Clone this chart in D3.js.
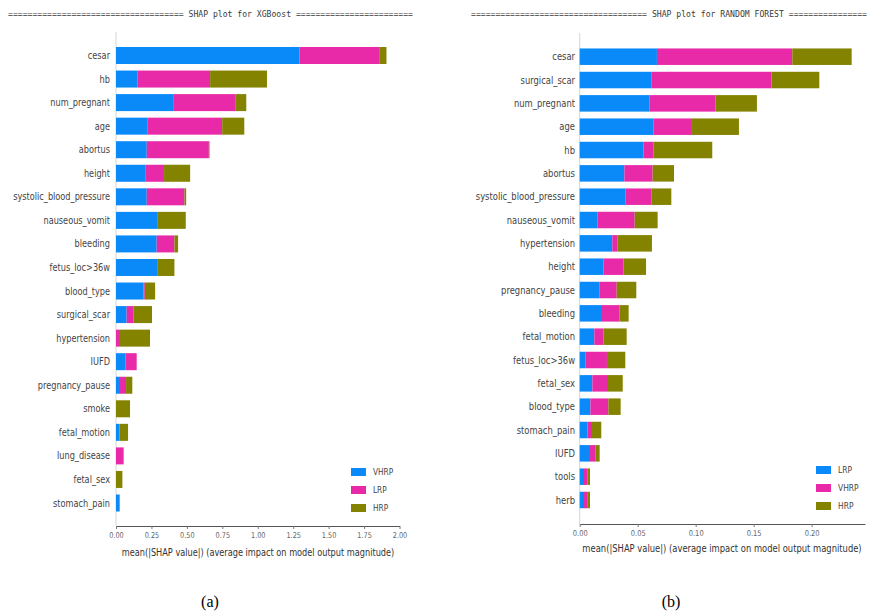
<!DOCTYPE html>
<html>
<head>
<meta charset="utf-8">
<script src="https://cdn.jsdelivr.net/npm/d3@7"></script>
<style>
  html, body { margin: 0; padding: 0; background: #fff; }
  svg { display: block; }
  text { font-family: "DejaVu Sans", sans-serif; }
</style>
</head>
<body>
<svg id="chart" width="870" height="614"></svg>
<script>
// ---------------- DATA ----------------
// (a) XGBoost
const xgbFeatures = ["cesar","hb","num_pregnant","age","abortus","height","systolic_blood_pressure",
  "nauseous_vomit","bleeding","fetus_loc>36w","blood_type","surgical_scar","hypertension","IUFD",
  "pregnancy_pause","smoke","fetal_motion","lung_disease","fetal_sex","stomach_pain"];
const xgbSeries = ["VHRP","LRP","HRP"];
const xgbVHRP = [1.295,0.153,0.408,0.224,0.217,0.210,0.217,0.295,0.287,0.295,0.193,0.075,0.000,0.068,0.021,0.000,0.024,0.000,0.000,0.026];
const xgbLRP  = [0.566,0.511,0.433,0.525,0.438,0.129,0.266,0.000,0.125,0.000,0.010,0.047,0.021,0.078,0.050,0.000,0.000,0.054,0.000,0.000];
const xgbHRP  = [0.047,0.401,0.078,0.156,0.005,0.184,0.012,0.197,0.026,0.117,0.073,0.132,0.219,0.000,0.044,0.099,0.061,0.000,0.045,0.000];
const xgbTicks = [0,0.25,0.5,0.75,1.0,1.25,1.5,1.75,2.0];
const xgbTitle = "==================================== SHAP plot for XGBoost ========================";

// (b) Random Forest
const rfFeatures = ["cesar","surgical_scar","num_pregnant","age","hb","abortus","systolic_blood_pressure",
  "nauseous_vomit","hypertension","height","pregnancy_pause","bleeding","fetal_motion","fetus_loc>36w",
  "fetal_sex","blood_type","stomach_pain","IUFD","tools","herb"];
const rfSeries = ["LRP","VHRP","HRP"];
const rfLRP  = [0.0666,0.0617,0.0600,0.0635,0.0549,0.0385,0.0393,0.0155,0.0281,0.0204,0.0172,0.0192,0.0126,0.0052,0.0109,0.0092,0.0066,0.0080,0.0037,0.0037];
const rfVHRP = [0.1167,0.1038,0.0572,0.0325,0.0086,0.0244,0.0228,0.0319,0.0043,0.0172,0.0147,0.0150,0.0078,0.0183,0.0135,0.0155,0.0040,0.0054,0.0032,0.0033];
const rfHRP  = [0.0512,0.0411,0.0356,0.0413,0.0508,0.0184,0.0169,0.0198,0.0299,0.0196,0.0169,0.0080,0.0201,0.0158,0.0127,0.0106,0.0080,0.0038,0.0020,0.0019];
const rfTicks = [0,0.05,0.10,0.15,0.20];
const rfTitle = "==================================== SHAP plot for RANDOM FOREST ================";

const axisTitle = "mean(|SHAP value|) (average impact on model output magnitude)";
const captions = ["(a)","(b)"];

// ---------------- STYLE ----------------
// colours are assigned by stack position (1st blue, 2nd magenta, 3rd olive)
const palette = ["#0a8af8", "#e82aa9", "#838300"];
const svg = d3.select("#chart");

function panel(cfg) {
  const g = svg.append("g");
  const x = d3.scaleLinear().domain(cfg.xDomain).range([cfg.x0, cfg.x1]);
  const y = d3.scalePoint().domain(cfg.features).range([cfg.yFirst, cfg.yLast]);
  const color = d3.scaleOrdinal().domain(cfg.series).range(palette);
  const barH = cfg.barH;

  // title
  g.append("text")
    .attr("x", cfg.titleX).attr("y", cfg.titleY)
    .attr("textLength", cfg.titleLen).attr("lengthAdjust", "spacingAndGlyphs")
    .style("font-family", "'DejaVu Sans Mono', monospace")
    .style("font-size", "8px").attr("fill", "#3a3a3a")
    .text(cfg.title);

  // left spine (light)
  g.append("line")
    .attr("x1", x(0)).attr("x2", x(0))
    .attr("y1", cfg.spineTop).attr("y2", cfg.axisY)
    .attr("stroke", "#d6d6d6").attr("stroke-width", 1);

  // stacked bars
  const rows = cfg.features.map((f, i) => {
    const r = { feature: f };
    cfg.series.forEach(s => r[s] = cfg.values[s][i]);
    return r;
  });
  const stack = d3.stack().keys(cfg.series)(rows);
  stack.forEach(layer => {
    g.append("g").selectAll("rect").data(layer).join("rect")
      .attr("x", d => x(d[0]))
      .attr("width", d => Math.max(0, x(d[1]) - x(d[0])))
      .attr("y", d => y(d.data.feature) - barH / 2)
      .attr("height", barH)
      .attr("fill", color(layer.key));
  });

  // feature labels
  g.append("g").selectAll("text").data(cfg.features).join("text")
    .attr("transform", d => `translate(${cfg.labelX},${y(d)}) scale(${cfg.sx},1)`)
    .attr("text-anchor", "end").attr("dy", "0.35em")
    .style("font-size", "10px").attr("fill", "#444")
    .text(d => d);

  // bottom axis
  const ax = g.append("g").attr("transform", `translate(0,${cfg.axisY})`)
    .call(d3.axisBottom(x).tickValues(cfg.ticks).tickFormat(d3.format(".2f")).tickSize(3).tickPadding(3).tickSizeOuter(0));
  ax.select(".domain").attr("stroke", "#555").attr("stroke-width", 1);
  ax.selectAll(".tick line").attr("stroke", "#777");
  ax.selectAll(".tick text")
    .attr("transform", `scale(${cfg.sx},1)`)
    .style("font-size", "8px").style("font-family", "'DejaVu Sans', sans-serif")
    .attr("fill", "#666");

  // axis title
  g.append("text")
    .attr("transform", `translate(${cfg.axisTitleX},${cfg.axisTitleY}) scale(${cfg.sx},1)`)
    .attr("text-anchor", "middle")
    .style("font-size", "10px").attr("fill", "#333")
    .text(axisTitle);

  // legend
  const lg = g.append("g");
  cfg.series.forEach((s, i) => {
    const cy = cfg.legY + i * 18;
    lg.append("rect").attr("x", cfg.legX).attr("y", cy - 4).attr("width", 15).attr("height", 8)
      .attr("fill", color(s));
    lg.append("text")
      .attr("transform", `translate(${cfg.legX + 22},${cy}) scale(${cfg.sx},1)`)
      .attr("dy", "0.35em").style("font-size", "9px").attr("fill", "#444")
      .text(s);
  });

  // caption
  svg.append("text")
    .attr("x", cfg.capX).attr("y", 607)
    .attr("text-anchor", "middle")
    .style("font-family", "'Liberation Serif', 'Times New Roman', serif")
    .style("font-size", "16px").attr("fill", "#000")
    .text(cfg.caption);
}

panel({
  features: xgbFeatures, series: xgbSeries,
  values: { VHRP: xgbVHRP, LRP: xgbLRP, HRP: xgbHRP },
  xDomain: [0, 2.0], x0: 116, x1: 399.5,
  yFirst: 55.5, yLast: 503, barH: 17,
  ticks: xgbTicks, sx: 0.82,
  labelX: 110, axisY: 526, spineTop: 32,
  title: xgbTitle, titleX: 8, titleY: 17, titleLen: 405,
  axisTitleX: 258, axisTitleY: 556,
  legX: 351, legY: 472, caption: captions[0], capX: 210
});

panel({
  features: rfFeatures, series: rfSeries,
  values: { LRP: rfLRP, VHRP: rfVHRP, HRP: rfHRP },
  xDomain: [0, 0.246], x0: 579.7, x1: 865,
  yFirst: 56.7, yLast: 500, barH: 16.5,
  ticks: rfTicks, sx: 0.84,
  labelX: 575, axisY: 524, spineTop: 33,
  title: rfTitle, titleX: 471, titleY: 17, titleLen: 396,
  axisTitleX: 722, axisTitleY: 552,
  legX: 816, legY: 470, caption: captions[1], capX: 671
});
</script>
</body>
</html>
